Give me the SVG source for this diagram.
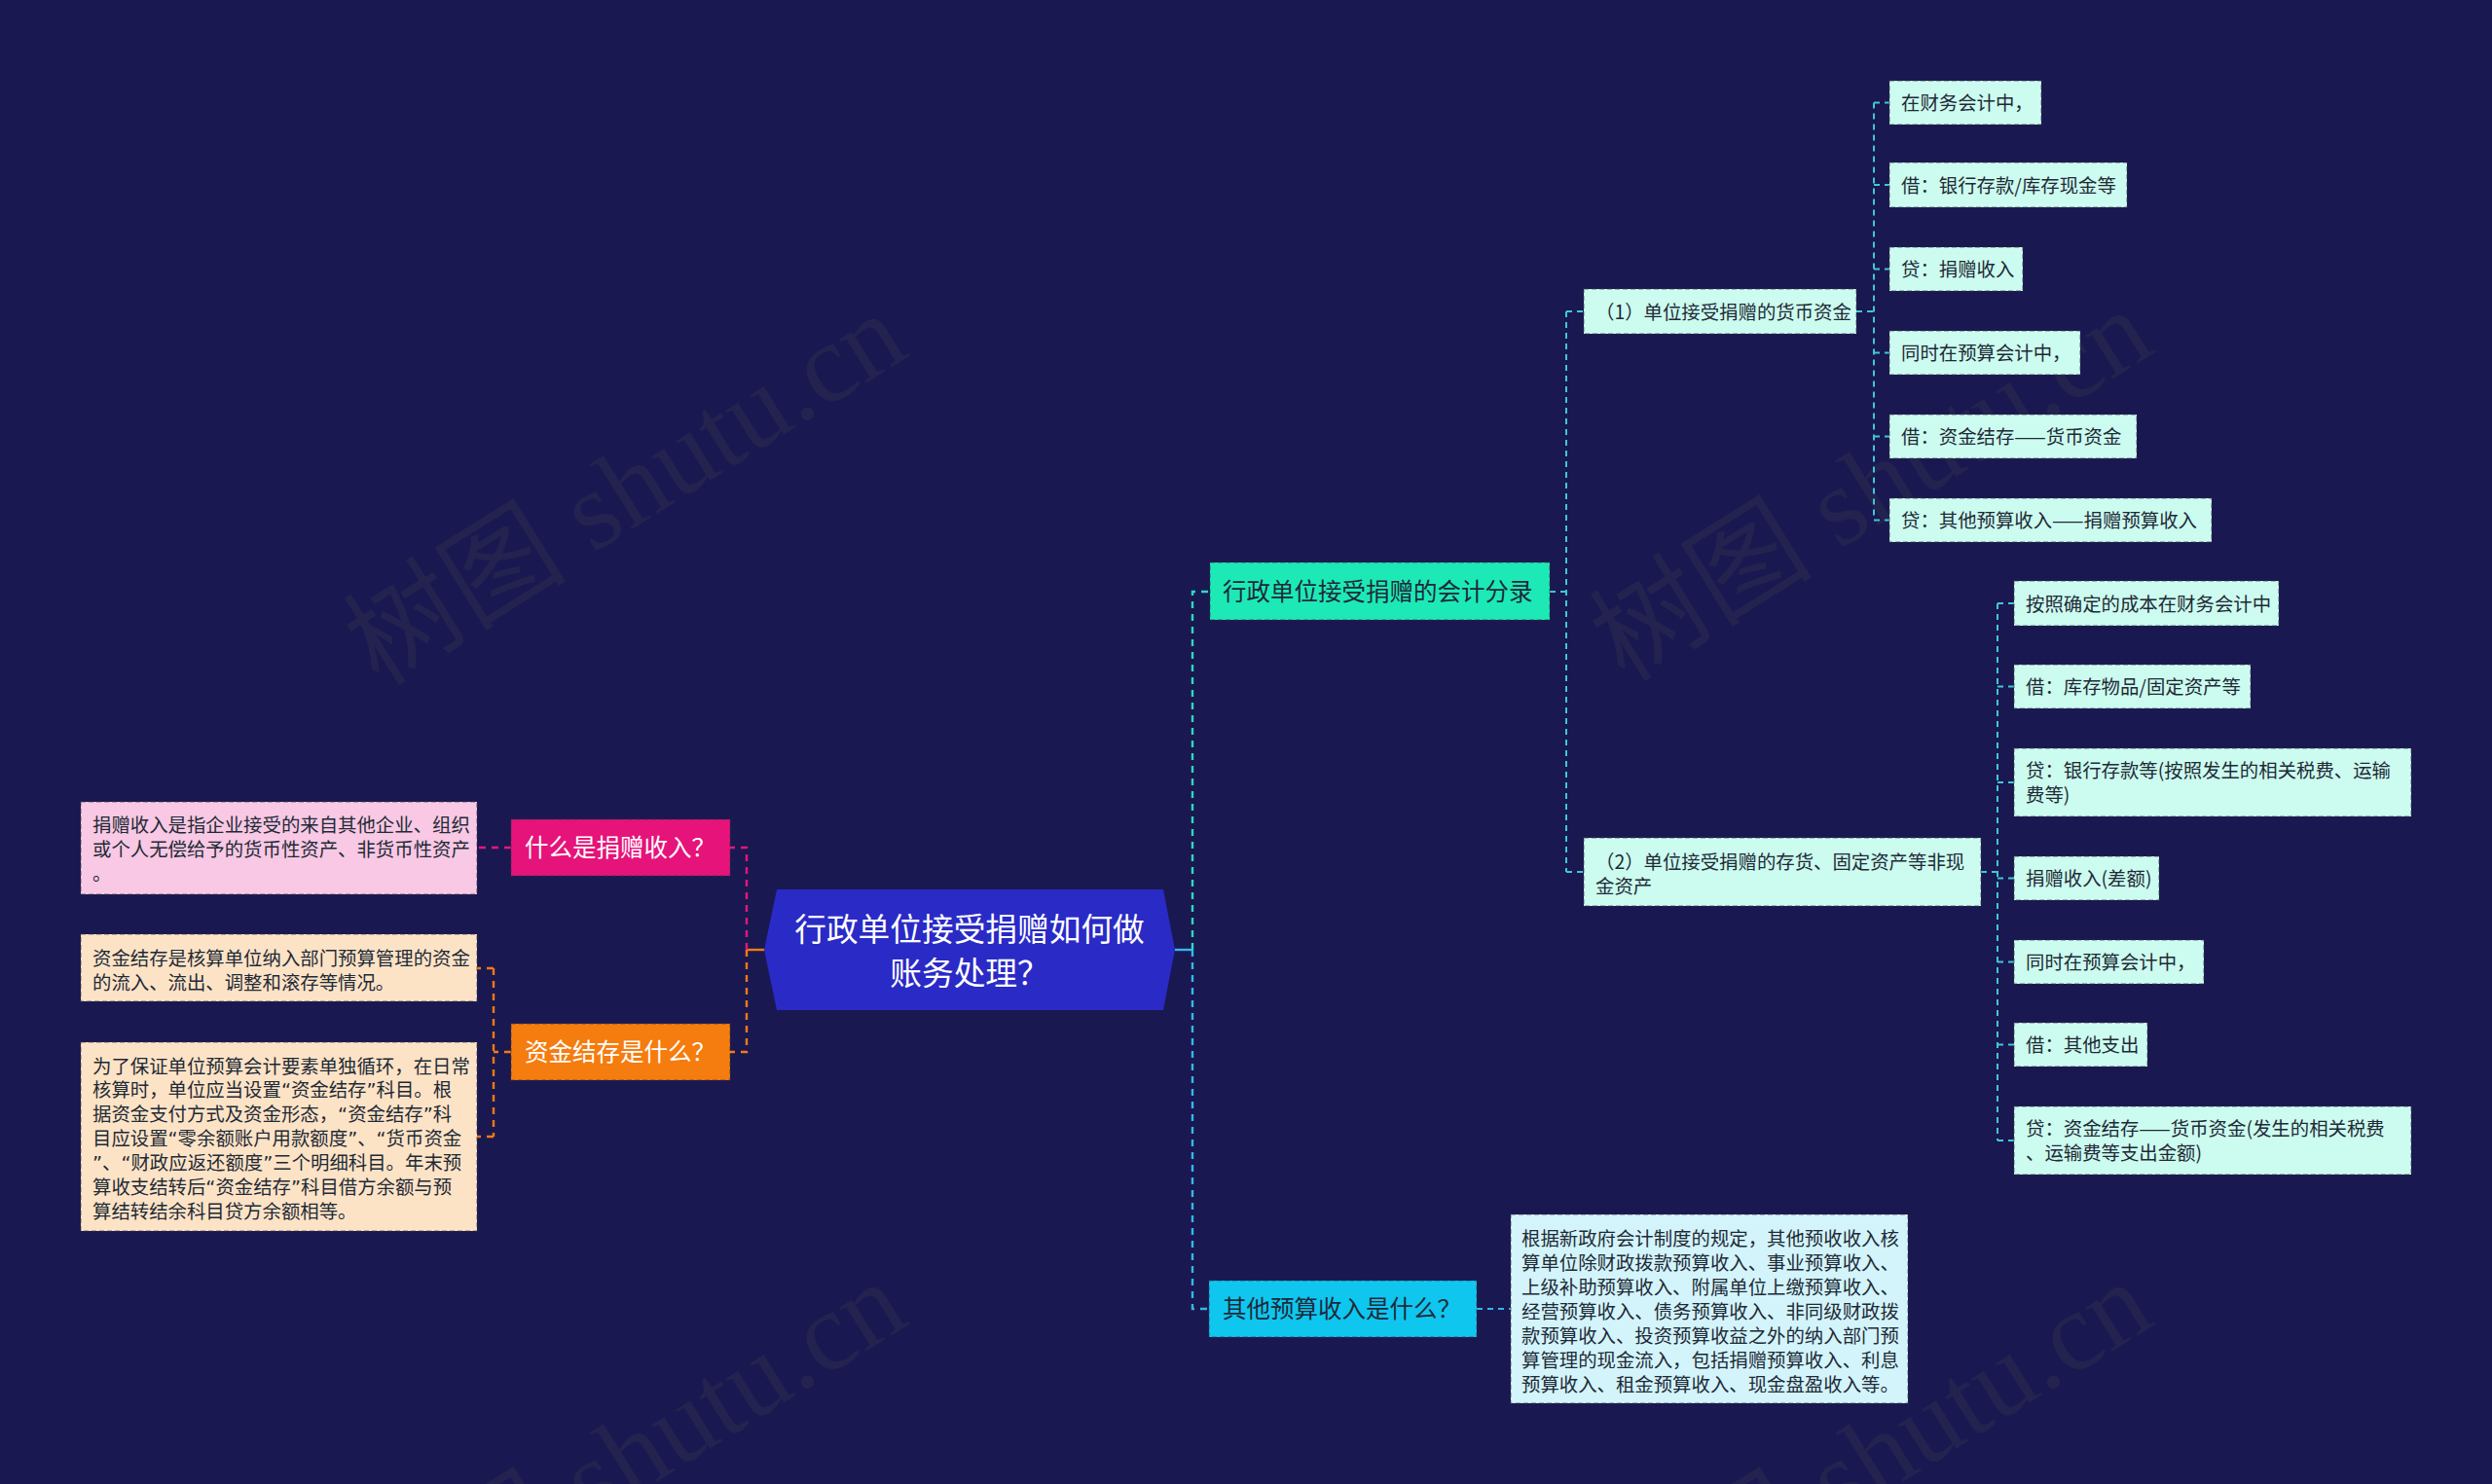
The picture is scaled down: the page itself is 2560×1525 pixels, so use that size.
<svg xmlns="http://www.w3.org/2000/svg" width="2560" height="1525" viewBox="0 0 2560 1525">
<defs>
<style>
.bg{fill:#1a1850}
.wm{font-family:"Liberation Serif","Noto Sans CJK SC",serif;font-size:115px;fill:#24224f}
.box{stroke:#3a3a4a;stroke-opacity:0.45;stroke-width:1.5;stroke-dasharray:5 3}
.t{font-family:"Noto Sans CJK SC","Noto Sans",sans-serif;font-size:19.4px;fill:#1e2a36}
.q{font-family:"DejaVu Sans",sans-serif}
.t1{font-family:"Noto Sans CJK SC","Noto Sans",sans-serif;font-size:24.5px}
.tc{font-family:"Noto Sans CJK SC","Noto Sans",sans-serif;font-size:32.7px;fill:#ffffff}
.c{fill:none;stroke-width:2.4;stroke-dasharray:7 6}
.c2{fill:none;stroke-width:2;stroke-dasharray:6 5}
</style>
</defs>
<rect class="bg" x="0" y="0" width="2560" height="1525"/>
<g id="watermarks">
<text class="wm" x="647" y="540" text-anchor="middle" transform="rotate(-32 647 510)">树图 shutu.cn</text>
<text class="wm" x="1927" y="536" text-anchor="middle" transform="rotate(-32 1927 506)">树图 shutu.cn</text>
<text class="wm" x="647" y="1535" text-anchor="middle" transform="rotate(-32 647 1505)">树图 shutu.cn</text>
<text class="wm" x="1927" y="1535" text-anchor="middle" transform="rotate(-32 1927 1505)">树图 shutu.cn</text>
</g>
<g id="connectors">
<path d="M785,976 H767" fill="none" stroke="#f57a13" stroke-width="2.4"/>
<path class="c" stroke="#e8147c" d="M767,976 V871 H750"/>
<path class="c" stroke="#f57a13" d="M767,976 V1081 H750"/>
<path class="c" stroke="#e8147c" d="M525,871 H490"/>
<path class="c" stroke="#f57a13" d="M525,1081 H507 M507,995 V1168 M507,995 H490 M507,1168 H490"/>
<path d="M1207,976 H1225" fill="none" stroke="#33b8ea" stroke-width="2.4"/>
<path class="c" stroke="#2fd6c4" d="M1225,976 V608 H1243"/>
<path class="c" stroke="#33b8ea" d="M1225,976 V1345 H1242"/>
<path class="c2" stroke="#3ec8d6" d="M1592,608 H1609 M1609,320 V896 M1609,320 H1627 M1609,896 H1627"/>
<path class="c2" stroke="#3ec8d6" d="M1907,320 H1925 M1925,105.5 V534.5 M1925,105.5 H1941 M1925,190 H1941 M1925,276.5 H1941 M1925,362.5 H1941 M1925,448.5 H1941 M1925,534.5 H1941"/>
<path class="c2" stroke="#3ec8d6" d="M2035,896 H2052 M2052,620 V1172 M2052,620 H2069 M2052,705.5 H2069 M2052,804 H2069 M2052,902.5 H2069 M2052,988.5 H2069 M2052,1073.5 H2069 M2052,1172 H2069"/>
<path class="c2" stroke="#33b8ea" d="M1517,1345 H1552"/>
</g>
<g id="root">
<polygon points="798,914 1195,914 1207,976 1195,1038 798,1038 785,976" fill="#2a2ac6"/>
<text class="tc" x="996" y="967" text-anchor="middle">行政单位接受捐赠如何做</text>
<text class="tc" x="996" y="1012" text-anchor="middle">账务处理？</text>
</g>
<g id="n-what-donation">
<rect class="box" x="525" y="842" width="225" height="58" fill="#e6137a"/>
<text class="t1" x="539" y="880" fill="#ffffff">什么是捐赠收入？</text>
</g>
<g id="n-donation-def">
<rect class="box" x="83" y="824" width="407" height="95" fill="#f8c8e4"/>
<text class="t" x="95" y="854.5">捐赠收入是指企业接受的来自其他企业、组织</text>
<text class="t" x="95" y="879.5">或个人无偿给予的货币性资产、非货币性资产</text>
<text class="t" x="95" y="904.5">。</text>
</g>
<g id="n-what-fund">
<rect class="box" x="525" y="1052" width="225" height="58" fill="#f57c0e"/>
<text class="t1" x="539" y="1090" fill="#ffffff">资金结存是什么？</text>
</g>
<g id="n-fund-def1">
<rect class="box" x="83" y="960" width="407" height="69" fill="#fde3c6"/>
<text class="t" x="95" y="991.5">资金结存是核算单位纳入部门预算管理的资金</text>
<text class="t" x="95" y="1016.5">的流入、流出、调整和滚存等情况。</text>
</g>
<g id="n-fund-def2">
<rect class="box" x="83" y="1071" width="407" height="194" fill="#fde3c6"/>
<text class="t" x="95" y="1102.5">为了保证单位预算会计要素单独循环，在日常</text>
<text class="t" x="95" y="1127.4">核算时，单位应当设置<tspan class="q">“</tspan>资金结存<tspan class="q">”</tspan>科目。根</text>
<text class="t" x="95" y="1152.3">据资金支付方式及资金形态，<tspan class="q">“</tspan>资金结存<tspan class="q">”</tspan>科</text>
<text class="t" x="95" y="1177.2">目应设置<tspan class="q">“</tspan>零余额账户用款额度<tspan class="q">”</tspan>、<tspan class="q">“</tspan>货币资金</text>
<text class="t" x="95" y="1202.1"><tspan class="q">”</tspan>、<tspan class="q">“</tspan>财政应返还额度<tspan class="q">”</tspan>三个明细科目。年末预</text>
<text class="t" x="95" y="1227">算收支结转后<tspan class="q">“</tspan>资金结存<tspan class="q">”</tspan>科目借方余额与预</text>
<text class="t" x="95" y="1251.9">算结转结余科目贷方余额相等。</text>
</g>
<g id="n-entries">
<rect class="box" x="1243" y="578" width="349" height="59" fill="#1de9b6"/>
<text class="t1" x="1256" y="617" fill="#1e2a3a">行政单位接受捐赠的会计分录</text>
</g>
<g id="n-cash">
<rect class="box" x="1627" y="297" width="280" height="46" fill="#ccfbef"/>
<text class="t" x="1639" y="327.5">（1）单位接受捐赠的货币资金</text>
</g>
<g id="n-cash-1">
<rect class="box" x="1941" y="83" width="156" height="45" fill="#ccfbef"/>
<text class="t" x="1953" y="113">在财务会计中，</text>
</g>
<g id="n-cash-2">
<rect class="box" x="1941" y="167" width="244" height="46" fill="#ccfbef"/>
<text class="t" x="1953" y="197.5">借：银行存款/库存现金等</text>
</g>
<g id="n-cash-3">
<rect class="box" x="1941" y="254" width="137" height="45" fill="#ccfbef"/>
<text class="t" x="1953" y="284">贷：捐赠收入</text>
</g>
<g id="n-cash-4">
<rect class="box" x="1941" y="340" width="196" height="45" fill="#ccfbef"/>
<text class="t" x="1953" y="370">同时在预算会计中，</text>
</g>
<g id="n-cash-5">
<rect class="box" x="1941" y="426" width="254" height="45" fill="#ccfbef"/>
<text class="t" x="1953" y="456">借：资金结存——货币资金</text>
</g>
<g id="n-cash-6">
<rect class="box" x="1941" y="512" width="331" height="45" fill="#ccfbef"/>
<text class="t" x="1953" y="542">贷：其他预算收入——捐赠预算收入</text>
</g>
<g id="n-noncash">
<rect class="box" x="1627" y="861" width="408" height="70" fill="#ccfbef"/>
<text class="t" x="1639" y="892.5">（2）单位接受捐赠的存货、固定资产等非现</text>
<text class="t" x="1639" y="917.5">金资产</text>
</g>
<g id="n-noncash-1">
<rect class="box" x="2069" y="597" width="272" height="46" fill="#ccfbef"/>
<text class="t" x="2081" y="627.5">按照确定的成本在财务会计中</text>
</g>
<g id="n-noncash-2">
<rect class="box" x="2069" y="683" width="243" height="45" fill="#ccfbef"/>
<text class="t" x="2081" y="713">借：库存物品/固定资产等</text>
</g>
<g id="n-noncash-3">
<rect class="box" x="2069" y="769" width="408" height="70" fill="#ccfbef"/>
<text class="t" x="2081" y="799">贷：银行存款等(按照发生的相关税费、运输</text>
<text class="t" x="2081" y="824">费等)</text>
</g>
<g id="n-noncash-4">
<rect class="box" x="2069" y="880" width="149" height="45" fill="#ccfbef"/>
<text class="t" x="2081" y="910">捐赠收入(差额)</text>
</g>
<g id="n-noncash-5">
<rect class="box" x="2069" y="966" width="195" height="45" fill="#ccfbef"/>
<text class="t" x="2081" y="996">同时在预算会计中，</text>
</g>
<g id="n-noncash-6">
<rect class="box" x="2069" y="1051" width="137" height="45" fill="#ccfbef"/>
<text class="t" x="2081" y="1081">借：其他支出</text>
</g>
<g id="n-noncash-7">
<rect class="box" x="2069" y="1137" width="408" height="70" fill="#ccfbef"/>
<text class="t" x="2081" y="1167">贷：资金结存——货币资金(发生的相关税费</text>
<text class="t" x="2081" y="1192">、运输费等支出金额)</text>
</g>
<g id="n-other">
<rect class="box" x="1242" y="1316" width="275" height="58" fill="#0fc6ef"/>
<text class="t1" x="1256" y="1354" fill="#1e2a3a">其他预算收入是什么？</text>
</g>
<g id="n-other-def">
<rect class="box" x="1552" y="1248" width="408" height="194" fill="#d3f4fb"/>
<text class="t" x="1563" y="1279.5">根据新政府会计制度的规定，其他预收收入核</text>
<text class="t" x="1563" y="1304.6">算单位除财政拨款预算收入、事业预算收入、</text>
<text class="t" x="1563" y="1329.7">上级补助预算收入、附属单位上缴预算收入、</text>
<text class="t" x="1563" y="1354.8">经营预算收入、债务预算收入、非同级财政拨</text>
<text class="t" x="1563" y="1379.9">款预算收入、投资预算收益之外的纳入部门预</text>
<text class="t" x="1563" y="1405">算管理的现金流入，包括捐赠预算收入、利息</text>
<text class="t" x="1563" y="1430.1">预算收入、租金预算收入、现金盘盈收入等。</text>
</g>
</svg>
